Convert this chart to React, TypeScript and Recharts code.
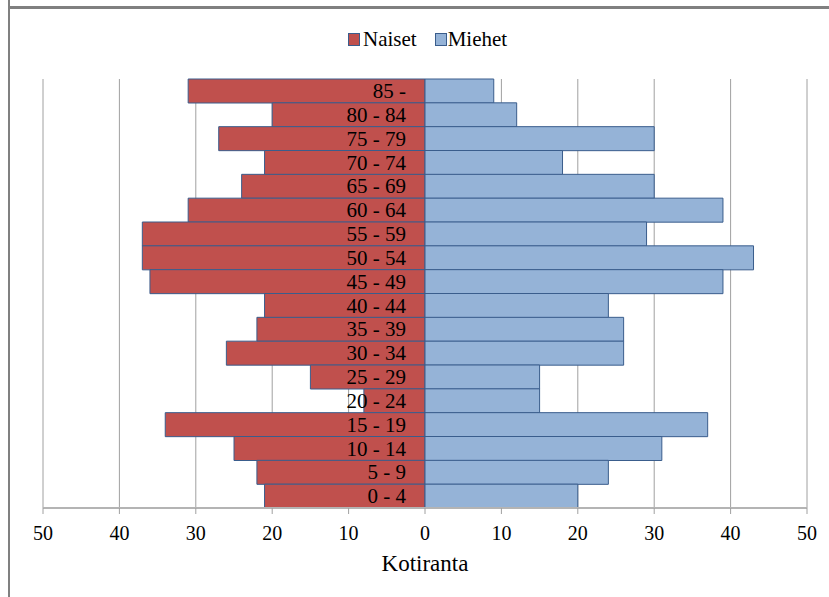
import React from 'react';
import { BarChart, Bar, XAxis, YAxis, CartesianGrid, LabelList } from 'recharts';

const ageGroups = ['85 -', '80 - 84', '75 - 79', '70 - 74', '65 - 69', '60 - 64', '55 - 59', '50 - 54', '45 - 49', '40 - 44', '35 - 39', '30 - 34', '25 - 29', '20 - 24', '15 - 19', '10 - 14', '5 - 9', '0 - 4'];
const naiset = [31, 20, 27, 21, 24, 31, 37, 37, 36, 21, 22, 26, 15, 8, 34, 25, 22, 21];
const miehet = [9, 12, 30, 18, 30, 39, 29, 43, 39, 24, 26, 26, 15, 15, 37, 31, 24, 20];
const xTicks = [-50, -40, -30, -20, -10, 0, 10, 20, 30, 40, 50];
const seriesNames = ['Naiset', 'Miehet'];
const axisTitle = 'Kotiranta';

const data = ageGroups.map((age, i) => ({ age, naiset: -naiset[i], miehet: miehet[i] }));

const W = 829;
const H = 597;
const MARGIN = { top: 79, right: 22, bottom: 59, left: 43 };
const FONT = "'Liberation Serif', Tinos, 'Times New Roman', 'DejaVu Serif', serif";
const RED = '#c0504d';
const BLUE = '#95b3d7';
const OUTLINE = '#3a5d8c';

const CategoryLabel = (props: any) => {
  const { x, y, height, value } = props;
  return (
    <text x={Number(x) - 19} y={Number(y) + Number(height) / 2} textAnchor="end" dominantBaseline="central" fontFamily={FONT} fontSize={21} fill="#000">
      {value}
    </text>
  );
};

const XTick = (props: any) => {
  const { x, y, payload } = props;
  return (
    <text x={x} y={Number(y) + 10} textAnchor="middle" dominantBaseline="central" fontFamily={FONT} fontSize={20} fill="#000">
      {String(Math.abs(payload.value))}
    </text>
  );
};

const AxisTitle = (props: any) => {
  const { viewBox } = props;
  const cx = viewBox.x + viewBox.width / 2;
  const y = viewBox.y + viewBox.height + 25;
  return (
    <text x={cx} y={y} textAnchor="middle" dominantBaseline="central" fontFamily={FONT} fontSize={23} fill="#000">
      {axisTitle}
    </text>
  );
};

export default function App() {
  return (
    <div style={{ position: 'absolute', left: 0, top: 0, width: W, height: H, background: '#fff', overflow: 'hidden', fontFamily: FONT }}>
      <div style={{ position: 'absolute', left: 8, top: 0, width: 2, height: H, background: '#808080' }} />
      <div style={{ position: 'absolute', left: 8, top: 6, width: W - 8, height: 3, background: '#808080' }} />
      <div style={{ position: 'absolute', left: 348, top: 27, display: 'flex', alignItems: 'center', fontFamily: FONT, fontSize: 21, color: '#000', lineHeight: '24px', whiteSpace: 'nowrap' }}>
        <span style={{ display: 'inline-block', width: 10, height: 11, background: RED, border: `1px solid ${OUTLINE}`, marginRight: 3 }} />
        <span>{seriesNames[0]}</span>
        <span style={{ display: 'inline-block', width: 10, height: 11, background: BLUE, border: `1px solid ${OUTLINE}`, marginLeft: 18, marginRight: 1 }} />
        <span>{seriesNames[1]}</span>
      </div>
      <div style={{ position: 'absolute', left: 0, top: 0 }}>
        <BarChart width={W} height={H} data={data} layout="vertical" margin={MARGIN} stackOffset="sign" barCategoryGap={0} barGap={0}>
          <CartesianGrid horizontal={false} stroke="#a0a0a0" strokeWidth={1} />
          <XAxis
            type="number"
            domain={[-50, 50]}
            ticks={xTicks}
            axisLine={{ stroke: '#b4b4b4', strokeWidth: 2 }}
            tickLine={{ stroke: '#a0a0a0' }}
            tickSize={6}
            tickMargin={9}
            tick={<XTick />}
            height={30}
            label={<AxisTitle />}
          />
          <YAxis type="category" dataKey="age" hide />
          <Bar dataKey="naiset" stackId="a" fill={RED} stroke={OUTLINE} strokeWidth={1} isAnimationActive={false} />
          <Bar dataKey="miehet" stackId="a" fill={BLUE} stroke={OUTLINE} strokeWidth={1} isAnimationActive={false}>
            <LabelList dataKey="age" content={<CategoryLabel />} />
          </Bar>
        </BarChart>
      </div>
    </div>
  );
}
